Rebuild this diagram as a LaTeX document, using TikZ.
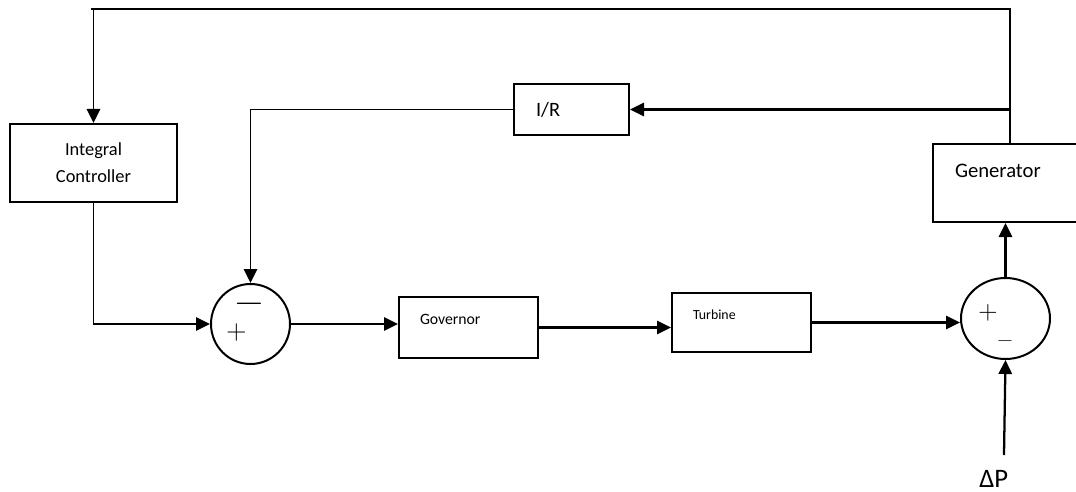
\documentclass[tikz,border=0pt]{standalone}
\usepackage{fontspec}
\setmainfont{Carlito}
\newfontfamily\signfont{Latin Modern Roman}
\usetikzlibrary{shapes.geometric, arrows.meta}
\tikzstyle{blockbox} = [draw, rectangle, black, line width=1.5pt, inner sep=0pt, align=left]
\tikzstyle{sumjunction} = [draw, ellipse, black, line width=1.5pt, inner sep=0pt]
\tikzstyle{signtext} = [inner sep=0pt, anchor=base]
\tikzstyle{signal} = [black, line width=1.7pt, -{Triangle[length=10.5pt, width=10pt]}]

\begin{document}
\begin{tikzpicture}[x=0.75pt, y=-0.75pt]
            \useasboundingbox (0,0) rectangle (1076,492);
            % Defining nodes
            \node[blockbox, align=center, minimum width=125.25pt, minimum height=58.5pt, font=\fontsize{13.8}{20.25}\selectfont] (IC) at (93.5,163) {Integral\\Controller};
            \node[blockbox, minimum width=86.25pt, minimum height=38.25pt, text width=53.25pt, text height=14pt, text depth=2.8pt, font=\fontsize{15.3}{18}\selectfont] (IR) at (571.5,109.5) {I/R};
            \node[blockbox, minimum width=108pt, minimum height=58.5pt, text width=75pt, text height=10pt, text depth=19pt, font=\fontsize{15.5}{18}\selectfont] (Gen) at (1005,183) {Generator};
            \node[blockbox, minimum width=104.25pt, minimum height=45.75pt, text width=72.75pt, text height=8pt, text depth=11.8pt, font=\fontsize{11.8}{14}\selectfont] (Gov) at (468.5,327.5) {Governor};
            \node[blockbox, minimum width=104.25pt, minimum height=44.25pt, text width=72.75pt, text height=7pt, text depth=11.8pt, font=\fontsize{10.4}{12}\selectfont] (Tur) at (741.5,322.5) {Turbine};
            \node[sumjunction, minimum width=59.25pt, minimum height=60pt] (S1) at (250.5,324) {};
            \node[sumjunction, minimum width=66.75pt, minimum height=60.75pt] (S2) at (1005.5,318.5) {};
            \node[signtext, font=\signfont\fontsize{29}{29}\selectfont] (S1minus) at (249,313.7) {−};
            \node[signtext, font=\signfont\fontsize{21}{21}\selectfont] (S1plus) at (236.5,339) {+};
            \node[signtext, font=\signfont\fontsize{20}{20}\selectfont] (S2plus) at (988,319.7) {+};
            \node[signtext, font=\signfont\fontsize{16}{16}\selectfont] (S2minus) at (1005,346.3) {−};
            \node[inner sep=0pt, anchor=base west, font=\fontsize{20}{20}\selectfont] (dP) at (979,487.5) {ΔP};
            \coordinate (dPin) at (1004,455);
            \coordinate (GenTap) at ([xshift=3.75pt]Gen.north);
            \coordinate (TopRail) at (91,9);

            % Drawing diagram
            \draw[signal, line width=1.4pt] (GenTap) |- (TopRail) -| (IC.north);
            \draw[signal] (GenTap |- IR.east) -- (IR.east);
            \draw[signal, line width=1.3pt] (IR.west) -| (S1.north);
            \draw[signal, line width=1.3pt] (IC.south) |- (S1.west);
            \draw[signal] (S1.east) -- (S1.east -| Gov.west);
            \draw[signal] (Gov.east) -- (Gov.east -| Tur.west);
            \draw[signal] (Tur.east) -- (Tur.east -| S2.west);
            \draw[signal] (S2.north) -- (S2.north |- Gen.south);
            \draw[signal] (dPin) -- (S2.south);
        \end{tikzpicture}
\end{document}
